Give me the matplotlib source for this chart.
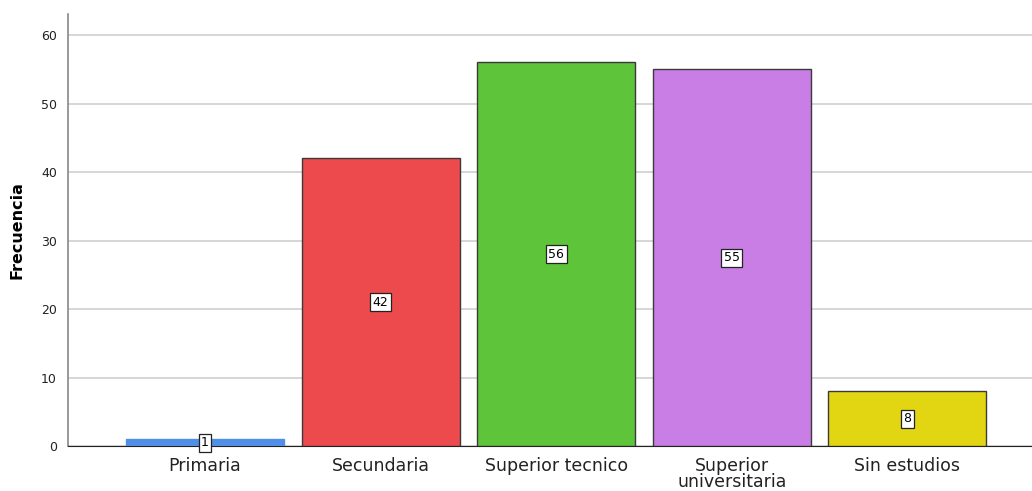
import matplotlib
matplotlib.use("Agg")
import matplotlib.pyplot as plt

categories = ["Primaria", "Secundaria", "Superior tecnico", "Superior\nuniversitaria", "Sin estudios"]
values = [1, 42, 56, 55, 8]
colors = ["#4f8fe6", "#ec4a4c", "#5ec43a", "#c97ee5", "#e2d612"]
edgecolors = ["#4f8fe6", "#3a3a3a", "#3a3a3a", "#3a3a3a", "#3a3a3a"]
yticks = [0, 10, 20, 30, 40, 50, 60]

fig = plt.figure(figsize=(10.32, 4.91), dpi=100)
ax = fig.add_axes([68/1032, 45/491, 1 - 68/1032, (446-14)/491])

x = list(range(len(categories)))
ax.bar(x, values, width=0.9, color=colors, edgecolor=edgecolors, linewidth=1.0, zorder=3)
for xi, v in zip(x, values):
    ax.text(xi, v/2 if v > 2 else 0.5, str(v), ha="center", va="center", fontsize=9, zorder=5,
            bbox=dict(boxstyle="square,pad=0.2", facecolor="white", edgecolor="#222222", linewidth=0.9))

ax.set_xlim(-0.78, 4.71)
ax.set_ylim(0, 63.07)
ax.set_yticks(yticks)
ax.set_yticklabels([str(t) for t in yticks], fontsize=9, color="#222222")
ax.set_xticks(x)
ax.set_xticklabels(categories, fontsize=12.5, color="#222222", linespacing=0.85)
ax.tick_params(axis="y", length=0, pad=8)
ax.tick_params(axis="x", length=0, pad=8)
ax.yaxis.grid(True, color="#d0d0d0", linewidth=1.2, zorder=0)
ax.set_axisbelow(True)
for s in ["top", "right"]:
    ax.spines[s].set_visible(False)
ax.spines["left"].set_color("#888888")
ax.spines["left"].set_linewidth(1.2)
ax.spines["bottom"].set_color("#222222")
ax.set_ylabel("Frecuencia", fontsize=11.5, fontweight="bold", labelpad=12)

fig.savefig("out.png", dpi=100)
